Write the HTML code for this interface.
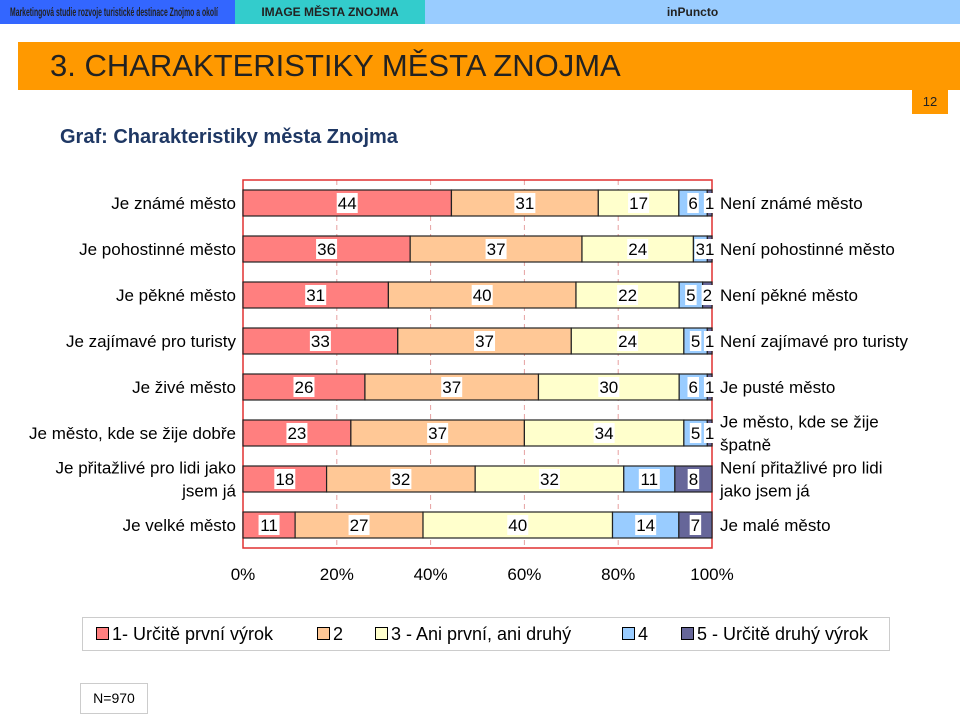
<!DOCTYPE html>
<html><head><meta charset="utf-8">
<style>
body{margin:0;width:960px;height:714px;position:relative;background:#fff;font-family:"Liberation Sans",sans-serif;overflow:hidden}
.abs{position:absolute}
</style></head><body>
<div class="abs" style="left:0;top:0;width:235px;height:24px;background:#3366FF;color:#222;font-size:12px;font-weight:bold;line-height:24px;white-space:nowrap;overflow:hidden"><span style="position:absolute;left:10px;top:0;transform:scaleX(0.57);transform-origin:left center">Marketingová studie rozvoje turistické destinace Znojmo a okolí</span></div>
<div class="abs" style="left:235px;top:0;width:190px;height:24px;background:#33CCCC;color:#222;font-size:12px;font-weight:bold;line-height:24px;text-align:center">IMAGE MĚSTA ZNOJMA</div>
<div class="abs" style="left:425px;top:0;width:535px;height:24px;background:#99CCFF;color:#222;font-size:12px;font-weight:bold;line-height:24px;text-align:center">inPuncto</div>
<div class="abs" style="left:18px;top:42px;width:942px;height:48px;background:#FF9900;color:#222;font-size:31px;line-height:48px;padding-left:32px;box-sizing:border-box">3. CHARAKTERISTIKY MĚSTA ZNOJMA</div>
<div class="abs" style="left:912px;top:90px;width:36px;height:24px;background:#FF9900;color:#222;font-size:13px;line-height:24px;text-align:center">12</div>
<div class="abs" style="left:60px;top:126px;font-size:20px;font-weight:bold;color:#1F3864">Graf: Charakteristiky města Znojma</div>
<svg class="abs" style="left:0;top:0" width="960" height="714" id="chart"></svg>
<div class="abs" style="left:82px;top:617px;width:806px;height:32px;border:1px solid #ccc;font-size:18px;line-height:32px;color:#000">
<span class="abs" style="left:13px"><span style="display:inline-block;width:11px;height:11px;background:#FF7F7F;border:1px solid #000;margin-right:3px"></span>1- Určitě první výrok</span>
<span class="abs" style="left:234px"><span style="display:inline-block;width:11px;height:11px;background:#FFC896;border:1px solid #000;margin-right:3px"></span>2</span>
<span class="abs" style="left:292px"><span style="display:inline-block;width:11px;height:11px;background:#FFFFCC;border:1px solid #000;margin-right:3px"></span>3 - Ani první, ani druhý</span>
<span class="abs" style="left:539px"><span style="display:inline-block;width:11px;height:11px;background:#99CCFF;border:1px solid #000;margin-right:3px"></span>4</span>
<span class="abs" style="left:598px"><span style="display:inline-block;width:11px;height:11px;background:#666699;border:1px solid #000;margin-right:3px"></span>5 - Určitě druhý výrok</span>
</div>
<div class="abs" style="left:80px;top:683px;width:66px;height:29px;border:1px solid #ccc;font-size:14px;line-height:29px;text-align:center">N=970</div>
<script>
const leftLabels=["Je známé město","Je pohostinné město","Je pěkné město","Je zajímavé pro turisty","Je živé město","Je město, kde se žije dobře","Je přitažlivé pro lidi jako|jsem já","Je velké město"];
const rightLabels=["Není známé město","Není pohostinné město","Není pěkné město","Není zajímavé pro turisty","Je pusté město","Je město, kde se žije|špatně","Není přitažlivé pro lidi|jako jsem já","Je malé město"];
const s1=[44,36,31,33,26,23,18,11];
const s2=[31,37,40,37,37,37,32,27];
const s3=[17,24,22,24,30,34,32,40];
const s4=[6,3,5,5,6,5,11,14];
const s5=[1,1,2,1,1,1,8,7];
const ticks=["0%","20%","40%","60%","80%","100%"];
const colors=["#FF7F7F","#FFC896","#FFFFCC","#99CCFF","#666699"];
const svg=document.getElementById('chart');const NS="http://www.w3.org/2000/svg";
const X0=243,X1=712,Y0=180,Y1=548;
const x=v=>X0+(X1-X0)*v/100;
const rowH=(Y1-Y0)/8;const y=i=>Y0+rowH*(i+0.5);const bh=26;
function mk(t,a,p){const e=document.createElementNS(NS,t);for(const k in a)e.setAttribute(k,a[k]);(p||svg).appendChild(e);return e;}
for(let k=1;k<5;k++){const g=mk('line',{x1:x(k*20),x2:x(k*20),y1:Y0,y2:Y1,stroke:'#E6A0A0','stroke-dasharray':'5,4'});

}
const border=mk('rect',{x:X0,y:Y0,width:X1-X0,height:Y1-Y0,fill:'none',stroke:'#E03030','stroke-width':1.5});


const series=[s1,s2,s3,s4,s5];
function lines(txt,xx,yy,anchor,name){const parts=txt.split('|');const t=mk('text',{x:xx,'text-anchor':anchor,'font-size':17,fill:'#000'});


parts.forEach((p,j)=>{const ts=mk('tspan',{x:xx,y:yy+6+(j-(parts.length-1)/2)*23},t);ts.textContent=p;});}
for(let i=0;i<8;i++){let acc=0;const tot=series.reduce((a,s)=>a+s[i],0);
for(let k=0;k<5;k++){const v=series[k][i]*100/tot;const r=mk('rect',{x:x(acc),y:y(i)-bh/2,width:x(acc+v)-x(acc),height:bh,fill:colors[k],stroke:'#222','stroke-width':1.2});


const cx=x(acc+v/2);const lab=String(series[k][i]);const w=lab.length*9.5+2;
const bg=mk('rect',{x:cx-w/2,y:y(i)-10,width:w,height:20,fill:'#fff'});


const t=mk('text',{x:cx,y:y(i)+6,'text-anchor':'middle','font-size':17});t.textContent=lab;


acc+=v;}
lines(leftLabels[i],236,y(i),'end','left-label');
lines(rightLabels[i],720,y(i),'start','right-label');}
ticks.forEach((tk,k)=>{const t=mk('text',{x:x(k*20),y:580,'text-anchor':'middle','font-size':17});t.textContent=tk;

});
</script>
</body></html>
